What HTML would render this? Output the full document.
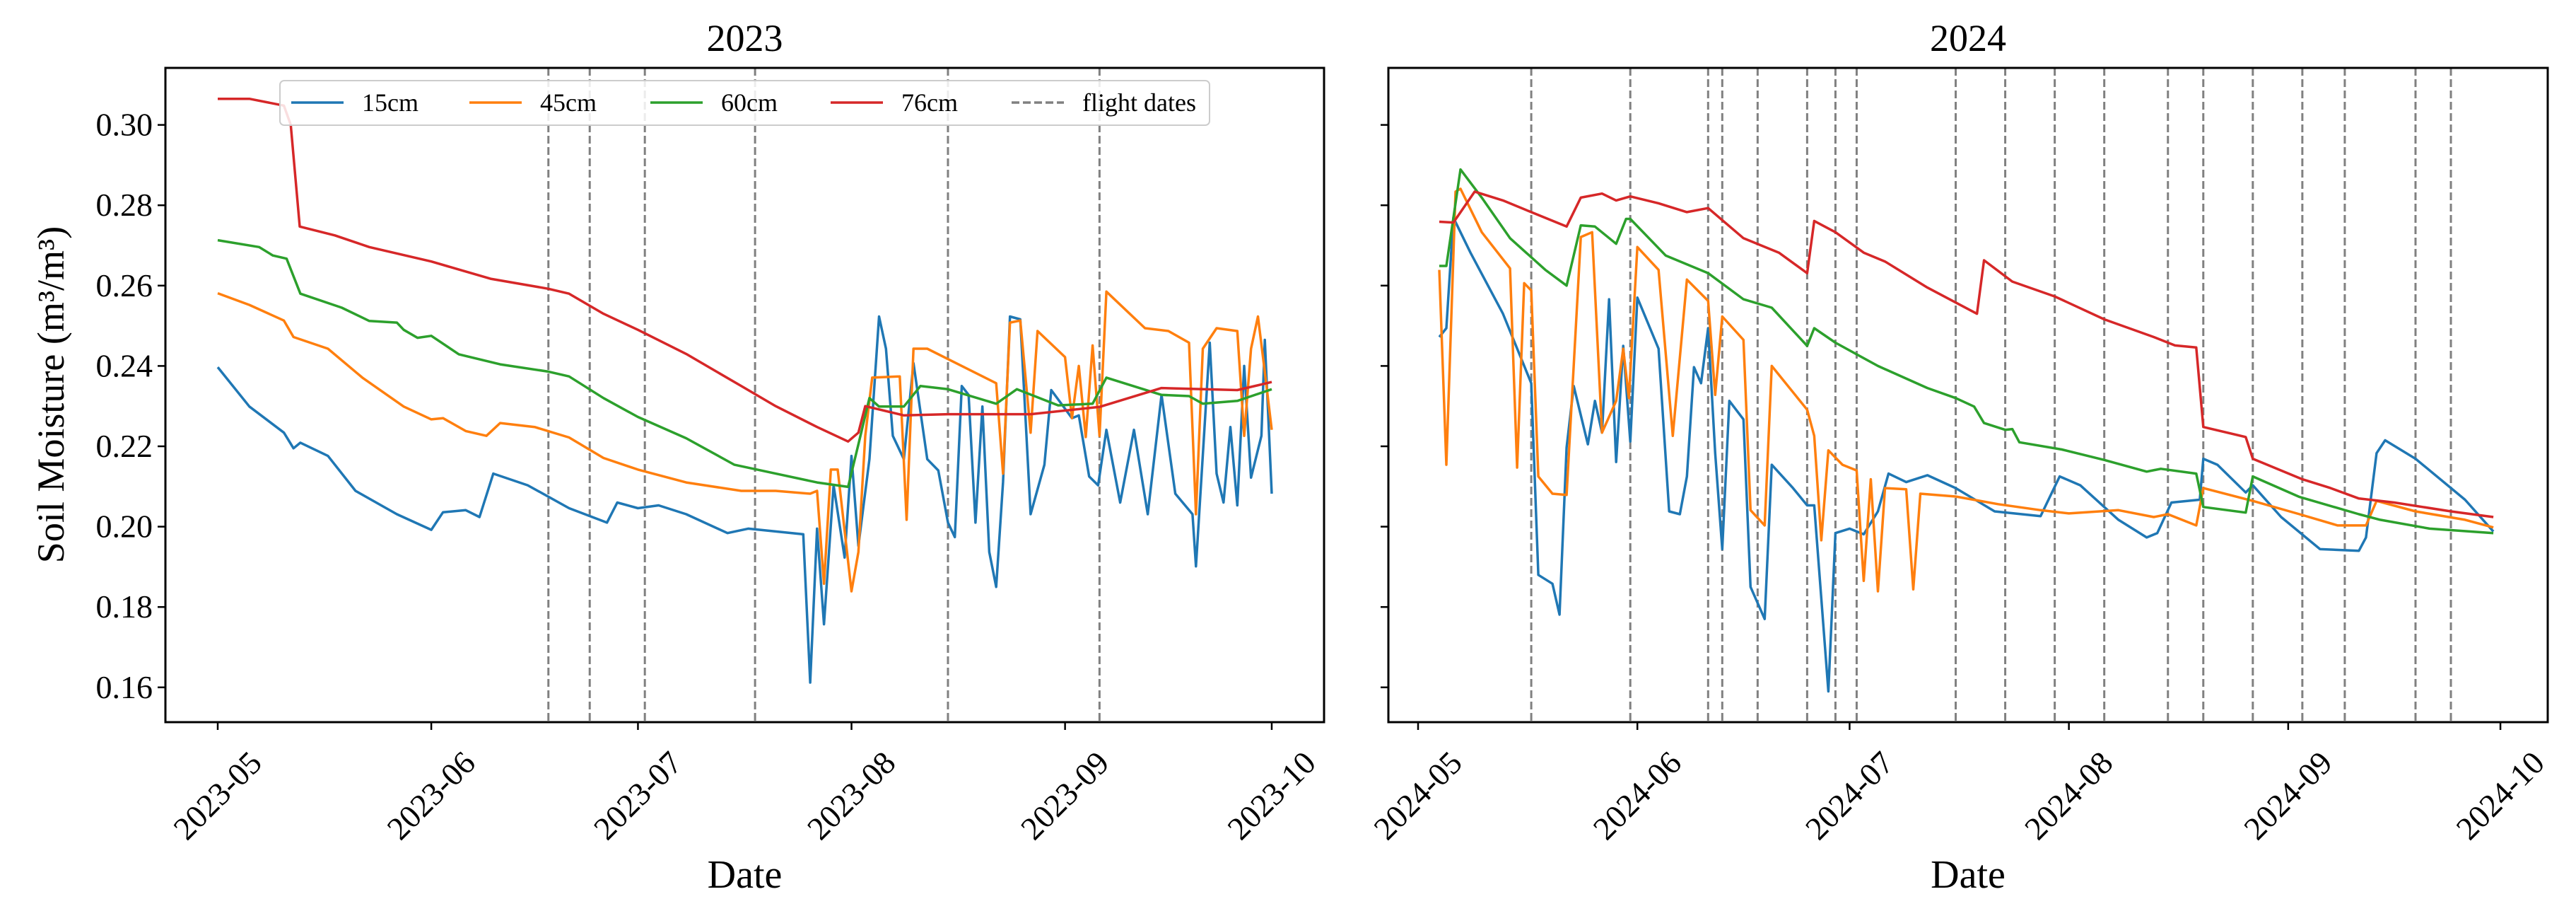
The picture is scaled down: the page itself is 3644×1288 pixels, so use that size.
<!DOCTYPE html>
<html><head><meta charset="utf-8"><style>
html,body{margin:0;padding:0;background:#fff;}
svg text{font-family:"Liberation Serif",serif;fill:#000;}
</style></head><body>
<svg id="chart" width="3644" height="1283" viewBox="0 0 3644 1283" xmlns="http://www.w3.org/2000/svg">
<defs>
<clipPath id="clipL"><rect x="234" y="96" width="1639" height="925"/></clipPath>
<clipPath id="clipR"><rect x="1964" y="96" width="1640" height="925"/></clipPath>
</defs>
<g id="root"></g>
</svg>
<script>
// ---- data (day offset from May 1, soil moisture m3/m3) ----
const monthLabels2023 = ["2023-05","2023-06","2023-07","2023-08","2023-09","2023-10"];
const monthLabels2024 = ["2024-05","2024-06","2024-07","2024-08","2024-09","2024-10"];
const monthDays = [0,31,61,92,123,153];
const yTicks = [0.16,0.18,0.20,0.22,0.24,0.26,0.28,0.30];
const flight2023 = [48,54,62,78,106,128];
const flight2024 = [16,30,41,43,48,55,59,62,76,83,90,97,106,111,118,125,131,141,146];
const seriesNames = ["15cm","45cm","60cm","76cm"];
const seriesColors = ["#1f77b4","#ff7f0e","#2ca02c","#d62728"];

const s2023_76 = [[0,0.3065],[4.6,0.3065],[9.6,0.3048],[10.6,0.300],[11.9,0.2747],[17,0.2725],[22,0.2696],[31,0.266],[39.6,0.2617],[48,0.2592],[51,0.258],[56,0.253],[61,0.249],[68,0.243],[76,0.235],[81,0.230],[87,0.2248],[91.5,0.2212],[93,0.2234],[94,0.230],[99.6,0.2277],[106,0.228],[118,0.228],[128,0.2298],[137,0.2345],[148,0.234],[153,0.236]];
const s2023_60 = [[0,0.2713],[6,0.2696],[8,0.2675],[10,0.2667],[12,0.258],[18,0.2545],[22,0.2512],[26,0.2508],[27,0.249],[29,0.247],[31,0.2475],[35,0.2429],[41,0.2404],[48,0.2386],[51,0.2374],[56,0.232],[61,0.2273],[68,0.222],[75,0.2154],[81,0.2132],[87,0.211],[91.5,0.2099],[93,0.2205],[94.6,0.232],[96,0.2299],[99.6,0.2299],[102,0.235],[106,0.2342],[113,0.2306],[116,0.2342],[122,0.2302],[127,0.2306],[129,0.2371],[137,0.2328],[141,0.2325],[143,0.2306],[148,0.2313],[153,0.2342]];
const s2023_45 = [[0,0.2581],[4.6,0.2552],[9.6,0.2513],[11,0.2472],[16,0.2443],[21,0.2371],[27,0.2299],[31,0.2267],[32.7,0.227],[36,0.2238],[39,0.2226],[41,0.2258],[46,0.2248],[51,0.2222],[56,0.2171],[61,0.2142],[68,0.211],[76,0.2089],[81,0.2089],[86,0.2082],[87,0.2089],[88,0.1858],[89,0.2142],[90,0.2142],[92,0.1839],[93,0.1937],[94,0.2226],[95,0.2371],[99,0.2374],[100,0.2017],[101,0.2443],[103,0.2443],[113,0.2357],[114,0.2132],[115,0.2508],[116.5,0.2513],[118,0.2234],[119,0.2487],[123,0.2422],[124,0.227],[125,0.24],[126,0.2223],[127,0.2451],[128,0.2226],[129,0.2585],[134.6,0.2494],[138,0.2487],[141,0.2458],[142,0.2031],[143,0.2443],[145,0.2494],[148,0.2487],[149,0.2226],[150,0.2443],[151,0.2523],[152,0.2385],[153,0.2241]];
const s2023_15 = [[0,0.2397],[4.6,0.2299],[9.6,0.2234],[11,0.2195],[12,0.2209],[16,0.2176],[20,0.2089],[26,0.2031],[31,0.1992],[32.7,0.2036],[36,0.2041],[38,0.2024],[40,0.2132],[45,0.2103],[51,0.2046],[56.5,0.201],[58,0.206],[61,0.2046],[64,0.2053],[68,0.2031],[74,0.1984],[77,0.1995],[81,0.1988],[85,0.1981],[86,0.1612],[87,0.1995],[88,0.1757],[89.4,0.2103],[91,0.1923],[92,0.2176],[93,0.1952],[94.6,0.2168],[96,0.2523],[97,0.2443],[98,0.2226],[99.6,0.2168],[101,0.2407],[103,0.2168],[104.6,0.214],[106,0.201],[107,0.1974],[108,0.235],[109,0.2328],[110,0.201],[111,0.2299],[112,0.1937],[113,0.185],[114,0.2111],[115,0.2523],[116.5,0.2516],[118,0.2031],[120,0.2154],[121,0.234],[124,0.227],[125,0.2277],[126.5,0.2125],[127.8,0.2103],[129,0.2241],[131,0.206],[133,0.2241],[135,0.2031],[137,0.2328],[139,0.2082],[141.5,0.2031],[142,0.1901],[144,0.2458],[145,0.2132],[146,0.206],[147,0.2248],[148,0.2053],[149,0.24],[150,0.2122],[151.5,0.2226],[152,0.2465],[153,0.2082]];

const s2024_76 = [[3,0.2759],[5,0.2757],[8,0.2834],[12,0.2812],[16,0.2783],[21,0.2747],[23,0.2819],[26,0.2829],[28,0.2812],[30,0.2822],[34,0.2805],[38,0.2783],[41,0.2793],[46,0.2718],[51,0.2682],[55,0.2631],[56,0.2761],[59,0.2733],[63,0.2682],[66,0.266],[72,0.2595],[79,0.253],[80,0.2663],[84,0.261],[90,0.2573],[97,0.2516],[104,0.2472],[107,0.2451],[110,0.2446],[111,0.2248],[117,0.2223],[118,0.2169],[125,0.2118],[129,0.2096],[133,0.207],[138,0.206],[146,0.2038],[152,0.2024]];
const s2024_60 = [[3,0.2649],[4,0.2649],[6,0.2889],[9,0.2819],[13,0.2718],[18,0.2639],[21,0.26],[23,0.275],[25,0.2747],[28,0.2704],[29.4,0.2766],[30,0.2766],[35,0.2675],[41,0.2631],[46,0.2566],[50,0.2545],[55,0.245],[56,0.2494],[59,0.2458],[65,0.24],[72,0.2345],[76,0.232],[78.6,0.2299],[80,0.2258],[83,0.2241],[84,0.2243],[85,0.221],[91,0.2192],[97,0.2166],[103,0.2137],[105,0.2144],[110,0.2132],[111,0.2049],[117,0.2035],[118,0.2125],[124.6,0.2074],[133,0.2031],[136,0.2017],[143,0.1995],[152,0.1984]];
const s2024_45 = [[3,0.2639],[4,0.2154],[5.3,0.2834],[6,0.2841],[9,0.2733],[13,0.2643],[14,0.2147],[15,0.2606],[16,0.2588],[17,0.2125],[19,0.2082],[21,0.2079],[23,0.2721],[24.6,0.2733],[26,0.2234],[28,0.2313],[29,0.2443],[29.8,0.232],[31,0.2696],[34,0.2639],[36,0.2226],[38,0.2615],[41,0.2562],[42,0.2328],[43,0.2523],[46,0.2465],[47,0.2041],[49,0.2003],[50,0.24],[55,0.2291],[56,0.2226],[57,0.1966],[58,0.219],[60,0.2154],[62,0.214],[63,0.1865],[64,0.2118],[65,0.1839],[66,0.2096],[69,0.2093],[70,0.1844],[71,0.2082],[76,0.2075],[82,0.2056],[88,0.2041],[92,0.2033],[99,0.2041],[104,0.2024],[106,0.2031],[110,0.2003],[111,0.2096],[118,0.2064],[124.6,0.2031],[130,0.2003],[134,0.2003],[135.5,0.2064],[141,0.2038],[148,0.2017],[152,0.1998]];
const s2024_15 = [[3,0.2472],[4,0.2494],[5,0.2769],[7.4,0.2682],[12,0.253],[16,0.2357],[17,0.188],[19,0.1858],[20,0.1781],[21,0.2197],[22,0.235],[24,0.2205],[25,0.2313],[26,0.2234],[27,0.2566],[28,0.2161],[29,0.245],[30,0.2212],[31,0.257],[34,0.2443],[35.5,0.2038],[37,0.2031],[38,0.2125],[39,0.2397],[40,0.2357],[41,0.2494],[42,0.2183],[43,0.1944],[44,0.2313],[46,0.2267],[47,0.185],[49,0.177],[50,0.2154],[53,0.2096],[55,0.2053],[56,0.2053],[58,0.159],[59,0.1984],[61,0.1995],[63,0.1981],[65,0.2038],[66.5,0.2132],[69,0.2111],[72,0.2128],[76,0.2096],[81.5,0.2038],[88,0.2026],[90.7,0.2125],[93.6,0.2103],[99,0.2017],[103,0.1973],[104.5,0.1984],[106.5,0.206],[110.5,0.2067],[111,0.2169],[113,0.2154],[117,0.2085],[118,0.2103],[122,0.2024],[127.5,0.1944],[133,0.194],[134,0.1973],[135.5,0.2183],[136.7,0.2215],[141,0.2169],[148,0.2067],[152,0.1988]];

const NS = "http://www.w3.org/2000/svg";
const root = document.getElementById("root");
function mk(tag, attrs, parent, text){
  const e = document.createElementNS(NS, tag);
  for (const k in attrs) e.setAttribute(k, attrs[k]);
  if (text !== undefined) e.textContent = text;
  (parent || root).appendChild(e);
  return e;
}
// axis functions
const yTop = 96, yBot = 1021;
function yScale(v){ return 176.6 + (0.30 - v) * 5680; }
const panels = [
  {name:"2023", x0:234, x1:1873, xs:d=>308 + d*9.745, clip:"clipL", labels:monthLabels2023, flights:flight2023,
   series:[s2023_15,s2023_45,s2023_60,s2023_76], yLabels:true},
  {name:"2024", x0:1964, x1:3604, xs:d=>2006 + d*10.007, clip:"clipR", labels:monthLabels2024, flights:flight2024,
   series:[s2024_15,s2024_45,s2024_60,s2024_76], yLabels:false}
];

panels.forEach((p, pi) => {
  const g = mk("g", {});
  
  
  const t = mk("text", {x:(p.x0+p.x1)/2, y:72, "font-size":54, "text-anchor":"middle"}, g, p.name);
  
  
  // flight date lines
  p.flights.forEach(d => {
    const l = mk("line", {x1:p.xs(d), x2:p.xs(d), y1:yTop, y2:yBot, stroke:"#808080", "stroke-width":3, "stroke-dasharray":"11,5"}, g);
    
    
  });
  // series
  const sg = mk("g", {"clip-path":"url(#"+p.clip+")"}, g);
  p.series.forEach((s, si) => {
    const pts = s.map(q => p.xs(q[0]).toFixed(1) + "," + yScale(q[1]).toFixed(1)).join(" ");
    const pl = mk("polyline", {points:pts, fill:"none", stroke:seriesColors[si], "stroke-width":3.5, "stroke-linejoin":"round"}, sg);
    
    
  });
  // frame
  const fr = mk("rect", {x:p.x0, y:yTop, width:p.x1-p.x0, height:yBot-yTop, fill:"none", stroke:"#000", "stroke-width":3}, g);
  
  
  // y ticks
  yTicks.forEach(v => {
    const y = yScale(v);
    const tk = mk("line", {x1:p.x0-11, x2:p.x0, y1:y, y2:y, stroke:"#000", "stroke-width":2.5}, g);
    
    
    if (p.yLabels) {
      const tl = mk("text", {x:p.x0-18, y:y+15, "font-size":46, "text-anchor":"end"}, g, v.toFixed(2));
      
      
    }
  });
  // x ticks
  monthDays.forEach((d, i) => {
    const x = p.xs(d);
    const tk = mk("line", {x1:x, x2:x, y1:yBot, y2:yBot+11, stroke:"#000", "stroke-width":2.5}, g);
    
    
    const tl = mk("text", {x:x, y:1140, "font-size":46, "text-anchor":"middle", transform:"rotate(-45 "+x+" 1125)"}, g, p.labels[i]);
    
    
  });
  const xl = mk("text", {x:(p.x0+p.x1)/2, y:1255, "font-size":56, "text-anchor":"middle"}, g, "Date");
  
  
});

// y axis title
const yt = mk("text", {x:0, y:0, "font-size":54, "text-anchor":"middle", transform:"translate(90 558) rotate(-90)"});


yt.textContent = "Soil Moisture (m\u00b3/m\u00b3)";

// legend
const lg = mk("g", {});


const lb = mk("rect", {x:396, y:114, width:1315, height:63, rx:6, fill:"#fff", "fill-opacity":0.85, stroke:"#cccccc", "stroke-width":2}, lg);


const legX = [412, 664, 920, 1175, 1431];
const legNames = seriesNames.concat(["flight dates"]);
legNames.forEach((n, i) => {
  const x = legX[i];
  const dashed = i === 4;
  const ln = mk("line", {x1:x, x2:x+74, y1:145, y2:145, stroke: dashed ? "#808080" : seriesColors[i], "stroke-width":3.5, "stroke-dasharray": dashed ? "11,5" : "none"}, lg);
  
  
  const tx = mk("text", {x:x+100, y:157, "font-size":36}, lg, n);
  
  
});
</script>
</body></html>
